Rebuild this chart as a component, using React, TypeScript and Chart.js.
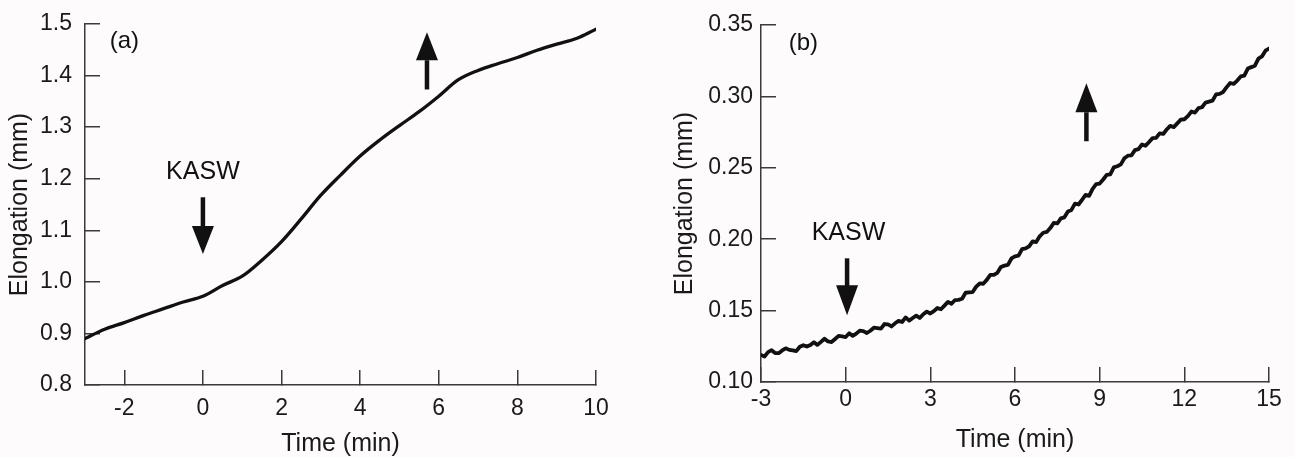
import React, { useEffect, useRef } from "react";
import { Chart, registerables } from "chart.js";

Chart.register(...registerables);

// ---------- Data ----------
const timeA = [-3, -2.5, -2, -1.5, -1, -0.5, 0, 0.5, 1, 1.5, 2, 2.5, 3, 3.5, 4, 4.5, 5, 5.5, 6, 6.5, 7, 7.5, 8, 8.5, 9, 9.5, 10];
const elongA = [0.89, 0.908, 0.921, 0.935, 0.948, 0.961, 0.972, 0.993, 1.011, 1.042, 1.078, 1.122, 1.168, 1.207, 1.244, 1.275, 1.303, 1.33, 1.36, 1.392, 1.41, 1.423, 1.435, 1.449, 1.461, 1.472, 1.49];

const timeB = [
  -3, -2.875, -2.75, -2.625, -2.5, -2.375, -2.25, -2.125,
  -2, -1.875, -1.75, -1.625, -1.5, -1.375, -1.25, -1.125,
  -1, -0.875, -0.75, -0.625, -0.5, -0.375, -0.25, -0.125,
  0, 0.125, 0.25, 0.375, 0.5, 0.625, 0.75, 0.875,
  1, 1.125, 1.25, 1.375, 1.5, 1.625, 1.75, 1.875,
  2, 2.125, 2.25, 2.375, 2.5, 2.625, 2.75, 2.875,
  3, 3.125, 3.25, 3.375, 3.5, 3.625, 3.75, 3.875,
  4, 4.125, 4.25, 4.375, 4.5, 4.625, 4.75, 4.875,
  5, 5.125, 5.25, 5.375, 5.5, 5.625, 5.75, 5.875,
  6, 6.125, 6.25, 6.375, 6.5, 6.625, 6.75, 6.875,
  7, 7.125, 7.25, 7.375, 7.5, 7.625, 7.75, 7.875,
  8, 8.125, 8.25, 8.375, 8.5, 8.625, 8.75, 8.875,
  9, 9.125, 9.25, 9.375, 9.5, 9.625, 9.75, 9.875,
  10, 10.125, 10.25, 10.375, 10.5, 10.625, 10.75, 10.875,
  11, 11.125, 11.25, 11.375, 11.5, 11.625, 11.75, 11.875,
  12, 12.125, 12.25, 12.375, 12.5, 12.625, 12.75, 12.875,
  13, 13.125, 13.25, 13.375, 13.5, 13.625, 13.75, 13.875,
  14, 14.125, 14.25, 14.375, 14.5, 14.625, 14.75, 14.875,
  15,
];
const elongB = [
  0.119, 0.1179, 0.1209, 0.1223, 0.1203, 0.1202, 0.1221, 0.1236,
  0.1225, 0.1221, 0.1216, 0.1247, 0.1258, 0.1248, 0.1259, 0.1279,
  0.126, 0.1281, 0.1303, 0.1284, 0.128, 0.1301, 0.1323, 0.1319,
  0.1315, 0.1341, 0.1323, 0.1339, 0.136, 0.1356, 0.1343, 0.1359,
  0.138, 0.1377, 0.1374, 0.1406, 0.1403, 0.1389, 0.1411, 0.1428,
  0.142, 0.1452, 0.143, 0.1448, 0.1465, 0.1448, 0.1475, 0.1493,
  0.148, 0.1496, 0.1518, 0.1509, 0.1535, 0.1561, 0.1548, 0.1574,
  0.1575, 0.1583, 0.1625, 0.1628, 0.163, 0.1668, 0.169, 0.1688,
  0.1715, 0.175, 0.175, 0.1765, 0.1805, 0.1815, 0.182, 0.1865,
  0.188, 0.1885, 0.193, 0.1935, 0.195, 0.1985, 0.198, 0.202,
  0.2045, 0.2051, 0.2078, 0.2114, 0.211, 0.2146, 0.2153, 0.2194,
  0.2205, 0.2249, 0.2243, 0.2276, 0.231, 0.2304, 0.2353, 0.2386,
  0.239, 0.2418, 0.2451, 0.2454, 0.2503, 0.2511, 0.2524, 0.2567,
  0.2585, 0.2587, 0.2624, 0.2631, 0.2663, 0.2654, 0.2681, 0.2708,
  0.271, 0.2741, 0.2737, 0.2768, 0.2794, 0.2785, 0.2811, 0.2837,
  0.284, 0.2862, 0.2894, 0.2886, 0.2918, 0.2924, 0.2956, 0.2963,
  0.297, 0.3014, 0.3018, 0.3031, 0.3065, 0.3094, 0.3088, 0.3111,
  0.314, 0.3145, 0.3195, 0.3205, 0.3215, 0.3265, 0.328, 0.332,
  0.3335,
];

const xTicksA = [-2, 0, 2, 4, 6, 8, 10];
const yTicksA = [0.8, 0.9, 1.0, 1.1, 1.2, 1.3, 1.4, 1.5];
const xTicksB = [-3, 0, 3, 6, 9, 12, 15];
const yTicksB = [0.1, 0.15, 0.2, 0.25, 0.3, 0.35];

const panelLabels = ["(a)", "(b)"];
const markerLabel = "KASW";
const xTitle = "Time (min)";
const yTitle = "Elongation (mm)";

const FONT = "'Liberation Sans', Arial, Helvetica, sans-serif";
const INK = "#111";
const AXIS = "#3a3a3a";
const TICK_SIZE = 23;
const TITLE_SIZE = 25;

// ---------- Annotation plugin ----------
function drawArrow(ctx: CanvasRenderingContext2D, x: number, yTail: number, yTip: number, headLen: number, headW: number, shaftW: number) {
  const dir = yTip > yTail ? 1 : -1;
  const yBase = yTip - dir * headLen;
  ctx.fillRect(x - shaftW / 2, Math.min(yTail, yBase), shaftW, Math.abs(yBase - yTail) + 1);
  ctx.beginPath();
  ctx.moveTo(x, yTip);
  ctx.lineTo(x - headW / 2, yBase);
  ctx.lineTo(x + headW / 2, yBase);
  ctx.closePath();
  ctx.fill();
}

const annotPlugin = {
  id: "annot",
  afterDatasetsDraw(chart: any, _args: any, opts: any) {
    const { ctx } = chart;
    const xs = chart.scales.x;
    const ys = chart.scales.y;
    ctx.save();
    ctx.fillStyle = INK;
    ctx.textBaseline = "middle";
    ctx.font = `${opts.panelSize}px ${FONT}`;
    ctx.textAlign = "left";
    ctx.fillText(opts.panel, xs.getPixelForValue(opts.panelX), ys.getPixelForValue(opts.panelY));
    ctx.font = `${opts.markerSize}px ${FONT}`;
    ctx.textAlign = "center";
    ctx.fillText(opts.marker, xs.getPixelForValue(opts.markerX), ys.getPixelForValue(opts.markerY));
    for (const a of opts.arrows) {
      drawArrow(ctx, xs.getPixelForValue(a.x), ys.getPixelForValue(a.tail), ys.getPixelForValue(a.tip), a.headLen, a.headW, a.shaftW);
    }
    ctx.restore();
  },
};

type PanelCfg = {
  left: number;
  width: number;
  times: number[];
  values: number[];
  xMin: number;
  xMax: number;
  yMin: number;
  yMax: number;
  xTicks: number[];
  yTicks: number[];
  yDecimals: number;
  yAxisWidth: number;
  xAxisHeight: number;
  padRight: number;
  padTop: number;
  yLabelPad: number;
  xLabelPad: number;
  xTitlePad: number;
  yTitlePad: number;
  lineWidth: number;
  tension: number;
  annot: any;
};

function Panel({ cfg }: { cfg: PanelCfg }) {
  const ref = useRef<HTMLCanvasElement | null>(null);
  useEffect(() => {
    if (!ref.current) return;
    const chart = new Chart(ref.current, {
      type: "line",
      data: {
        datasets: [
          {
            data: cfg.times.map((t, i) => ({ x: t, y: cfg.values[i] })),
            borderColor: INK,
            borderWidth: cfg.lineWidth,
            pointRadius: 0,
            tension: cfg.tension,
            fill: false,
            borderCapStyle: "round",
            borderJoinStyle: "round",
          },
        ],
      },
      options: {
        responsive: false,
        animation: false,
        devicePixelRatio: 1,
        layout: { padding: { left: 0, right: cfg.padRight, top: cfg.padTop, bottom: 0 } },
        plugins: {
          legend: { display: false },
          tooltip: { enabled: false },
          annot: cfg.annot,
        } as any,
        scales: {
          x: {
            type: "linear",
            min: cfg.xMin,
            max: cfg.xMax,
            afterBuildTicks: (s: any) => {
              s.ticks = cfg.xTicks.map((v) => ({ value: v }));
            },
            afterFit: (s: any) => {
              s.height = cfg.xAxisHeight;
              s.paddingLeft = 0;
              s.paddingRight = 0;
            },
            grid: {
              drawOnChartArea: false,
              drawTicks: true,
              tickLength: -15,
              color: AXIS,
              lineWidth: 1.5,
            },
            border: { display: true, color: AXIS, width: 1.5 },
            ticks: {
              color: "#1a1a1a",
              font: { family: FONT, size: TICK_SIZE },
              padding: cfg.xLabelPad,
              maxRotation: 0,
              autoSkip: false,
              callback: (v: any) => String(v),
            },
            title: {
              display: true,
              text: xTitle,
              color: "#1a1a1a",
              font: { family: FONT, size: TITLE_SIZE, lineHeight: 1 },
              padding: { top: 0, bottom: cfg.xTitlePad },
            },
          },
          y: {
            type: "linear",
            min: cfg.yMin,
            max: cfg.yMax,
            afterBuildTicks: (s: any) => {
              s.ticks = cfg.yTicks.map((v) => ({ value: v }));
            },
            afterFit: (s: any) => {
              s.width = cfg.yAxisWidth;
              s.paddingTop = 0;
              s.paddingBottom = 0;
            },
            grid: {
              drawOnChartArea: false,
              drawTicks: true,
              tickLength: -15,
              color: AXIS,
              lineWidth: 1.5,
            },
            border: { display: true, color: AXIS, width: 1.5 },
            ticks: {
              color: "#1a1a1a",
              font: { family: FONT, size: TICK_SIZE },
              padding: cfg.yLabelPad,
              autoSkip: false,
              callback: (v: any) => Number(v).toFixed(cfg.yDecimals),
            },
            title: {
              display: true,
              text: yTitle,
              color: "#1a1a1a",
              font: { family: FONT, size: TITLE_SIZE, lineHeight: 1 },
              padding: { top: cfg.yTitlePad, bottom: 0 },
            },
          },
        },
      } as any,
      plugins: [annotPlugin as any],
    });
    return () => chart.destroy();
  }, [cfg]);
  return (
    <canvas
      ref={ref}
      width={cfg.width}
      height={457}
      style={{ position: "absolute", left: cfg.left, top: 0, width: cfg.width, height: 457 }}
    />
  );
}

const panelA: PanelCfg = {
  left: 0,
  width: 645,
  times: timeA,
  values: elongA,
  xMin: -3,
  xMax: 10,
  yMin: 0.8,
  yMax: 1.5,
  xTicks: xTicksA,
  yTicks: yTicksA,
  yDecimals: 1,
  yAxisWidth: 85,
  xAxisHeight: 72,
  padRight: 49,
  padTop: 24,
  yLabelPad: 28,
  xLabelPad: 25,
  xTitlePad: 0.5,
  yTitlePad: 7.5,
  lineWidth: 3.3,
  tension: 0.35,
  annot: {
    panel: panelLabels[0],
    panelSize: 24,
    panelX: -2.37,
    panelY: 1.466,
    marker: markerLabel,
    markerSize: 25,
    markerX: 0,
    markerY: 1.213,
    arrows: [
      { x: 0, tail: 1.164, tip: 1.054, headLen: 28, headW: 22, shaftW: 4.5 },
      { x: 5.7, tail: 1.375, tip: 1.484, headLen: 28, headW: 22, shaftW: 4.5 },
    ],
  },
};

const panelB: PanelCfg = {
  left: 645,
  width: 650,
  times: timeB,
  values: elongB,
  xMin: -3,
  xMax: 15,
  yMin: 0.1,
  yMax: 0.35,
  xTicks: xTicksB,
  yTicks: yTicksB,
  yDecimals: 2,
  yAxisWidth: 116,
  xAxisHeight: 75,
  padRight: 26,
  padTop: 25,
  yLabelPad: 23,
  xLabelPad: 19,
  xTitlePad: 4.5,
  yTitlePad: 27.5,
  lineWidth: 3.8,
  tension: 0,
  annot: {
    panel: panelLabels[1],
    panelSize: 24,
    panelX: -2.02,
    panelY: 0.337,
    marker: markerLabel,
    markerSize: 25,
    markerX: 0.1,
    markerY: 0.2041,
    arrows: [
      { x: 0.05, tail: 0.1866, tip: 0.1467, headLen: 30, headW: 22, shaftW: 4.5 },
      { x: 8.53, tail: 0.2693, tip: 0.3092, headLen: 29, headW: 22, shaftW: 4.5 },
    ],
  },
};

export default function App() {
  return (
    <div
      style={{
        position: "absolute",
        left: 0,
        top: 0,
        width: 1295,
        height: 457,
        background: "#fdfbfb",
        overflow: "hidden",
      }}
    >
      <Panel cfg={panelA} />
      <Panel cfg={panelB} />
    </div>
  );
}
